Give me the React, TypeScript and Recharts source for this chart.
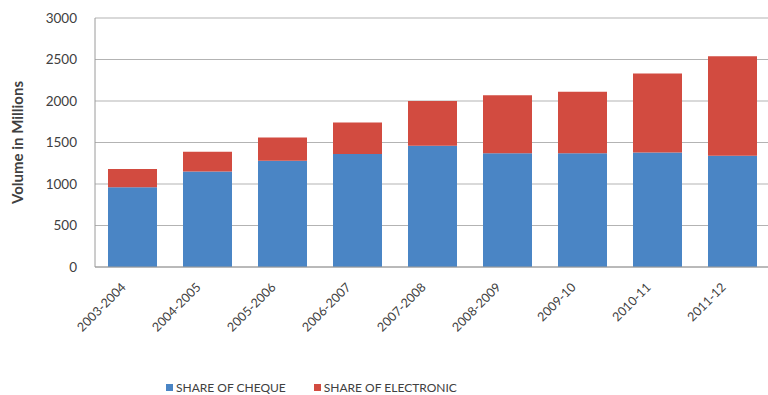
import { BarChart, Bar, XAxis, YAxis, CartesianGrid, Legend } from 'recharts'

const years = ['2003-2004', '2004-2005', '2005-2006', '2006-2007', '2007-2008', '2008-2009', '2009-10', '2010-11', '2011-12']
const cheque = [960, 1150, 1280, 1360, 1460, 1370, 1370, 1380, 1340]
const electronic = [220, 240, 280, 380, 540, 700, 740, 950, 1200]
const yTicks = [0, 500, 1000, 1500, 2000, 2500, 3000]

const data = years.map((year, i) => ({ year, cheque: cheque[i], electronic: electronic[i] }))

const BLUE = '#4a85c5'
const RED = '#d24b40'
const FONT = 'Lato, "Open Sans", sans-serif'

function XTick({ x, y, payload }: any) {
  return (
    <g transform={`translate(${x - 9},${y + 10}) rotate(-45)`}>
      <text x={0} y={0} dy="0.35em" textAnchor="end" fontSize={12.5} fill="#404040" fontFamily={FONT}>
        {payload.value}
      </text>
    </g>
  )
}

function LegendBox() {
  const items = [
    { label: 'SHARE OF CHEQUE', color: BLUE },
    { label: 'SHARE OF ELECTRONIC', color: RED },
  ]
  return (
    <div style={{ display: 'flex', gap: 28, fontFamily: FONT, fontSize: 12, color: '#404040' }}>
      {items.map((it) => (
        <div key={it.label} style={{ display: 'flex', alignItems: 'center', gap: 3 }}>
          <span style={{ width: 7, height: 7, background: it.color, display: 'inline-block' }} />
          <span>{it.label}</span>
        </div>
      ))}
    </div>
  )
}

export default function App() {
  return (
    <div style={{ position: 'fixed', left: 0, top: 0, width: 768, height: 395, overflow: 'hidden', background: '#fff' }}>
      <BarChart width={775} height={395} data={data} margin={{ top: 18, right: 5, left: 25, bottom: 5 }}>
        <CartesianGrid vertical={false} stroke="#b3b3b3" />
        <XAxis
          dataKey="year"
          tick={<XTick />}
          tickLine={false}
          axisLine={{ stroke: '#9a9a9a' }}
          interval={0}
          height={108}
        />
        <YAxis
          domain={[0, 3000]}
          ticks={yTicks}
          width={70}
          tickLine={false}
          tickSize={0}
          tickMargin={18}
          axisLine={{ stroke: '#9a9a9a' }}
          tick={{ fontSize: 13.5, fill: '#404040', fontFamily: FONT }}
          label={{
            value: 'Volume in Millions',
            angle: -90,
            position: 'insideLeft',
            offset: -7,
            style: { textAnchor: 'middle', fontSize: 15, fontWeight: 'bold', fill: '#404040', fontFamily: FONT },
          }}
        />
        <Legend content={<LegendBox />} wrapperStyle={{ left: 166, top: 380, width: 340 }} />
        <Bar dataKey="cheque" stackId="a" fill={BLUE} barSize={49} isAnimationActive={false} />
        <Bar dataKey="electronic" stackId="a" fill={RED} barSize={49} isAnimationActive={false} />
      </BarChart>
    </div>
  )
}
